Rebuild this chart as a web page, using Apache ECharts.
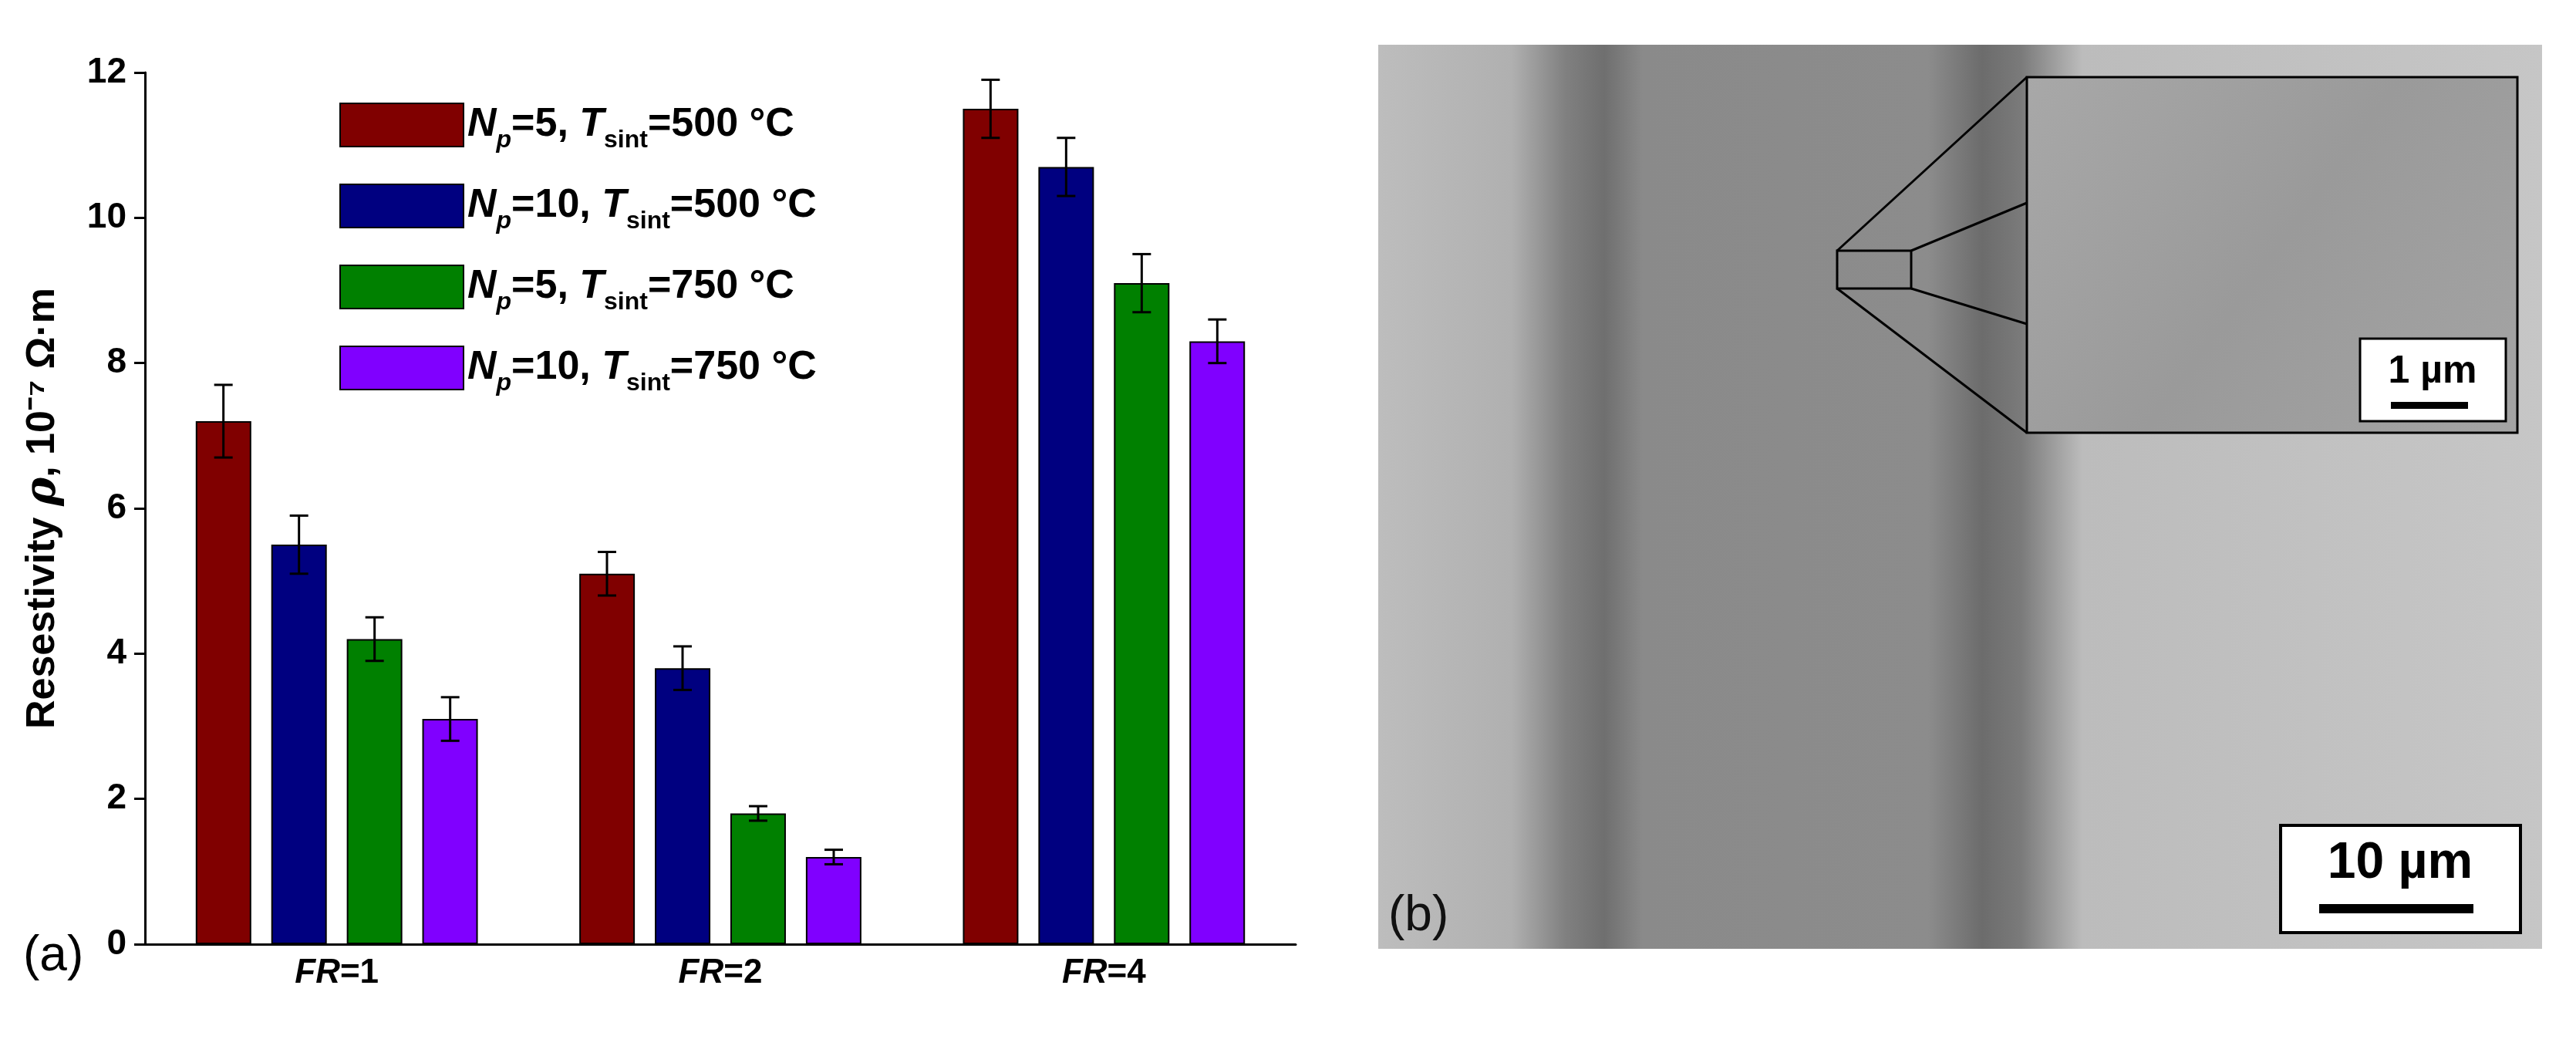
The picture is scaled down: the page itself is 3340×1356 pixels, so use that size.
<!DOCTYPE html>
<html><head><meta charset="utf-8">
<script src="https://cdn.jsdelivr.net/npm/echarts@6/dist/echarts.min.js"></script>
<style>html,body{margin:0;padding:0;background:#fff}#c{width:3340px;height:1356px}</style>
</head><body><div id="c"></div>
<script>
const categories = ['1', '2', '4'];
const seriesNames = ['Np5_500', 'Np10_500', 'Np5_750', 'Np10_750'];
const legendNp = ['5', '10', '5', '10'];
const legendT = ['500', '500', '750', '750'];
const values = [
  [7.2, 5.1, 11.5],
  [5.5, 3.8, 10.7],
  [4.2, 1.8, 9.1],
  [3.1, 1.2, 8.3]
];
const errors = [
  [0.5, 0.3, 0.4],
  [0.4, 0.3, 0.4],
  [0.3, 0.1, 0.4],
  [0.3, 0.1, 0.3]
];
const colors = ['#800000', '#000080', '#008000', '#8000ff'];
const yTicks = [0, 2, 4, 6, 8, 10, 12];

const BW = 72, STEP = 98;
const chart = echarts.init(document.getElementById('c'));
const series = [];
seriesNames.forEach((n, i) => {
  series.push({
    name: n, type: 'bar', data: values[i], barWidth: BW, barGap: '36%',
    itemStyle: { color: colors[i], borderColor: '#000', borderWidth: 2 }
  });
});
seriesNames.forEach((n, i) => {
  series.push({
    type: 'custom', name: n + '_err',
    data: values[i].map((v, j) => [j, v, errors[i][j]]),
    renderItem: function (params, api) {
      const x = api.value(0), v = api.value(1), e = api.value(2);
      const top = api.coord([x, v + e]);
      const bot = api.coord([x, v - e]);
      const cx = top[0] + (i - 1.5) * STEP;
      const hw = 12;
      const st = { stroke: '#000', lineWidth: 3 };
      return { type: 'group', children: [
        { type: 'line', shape: { x1: cx, y1: top[1], x2: cx, y2: bot[1] }, style: st },
        { type: 'line', shape: { x1: cx - hw, y1: top[1], x2: cx + hw, y2: top[1] }, style: st },
        { type: 'line', shape: { x1: cx - hw, y1: bot[1], x2: cx + hw, y2: bot[1] }, style: st }
      ]};
    },
    z: 5
  });
});

const PX0 = 1787, PX1 = 3296, PY0 = 58, PY1 = 1230;
const pw = PX1 - PX0;
function fx(x) { return (x - PX0) / pw; }
const lineSt = { stroke: '#000', lineWidth: 3 };
const graphics = [
  { type: 'rect', shape: { x: PX0, y: PY0, width: pw, height: PY1 - PY0 },
    style: { fill: new echarts.graphic.LinearGradient(0, 0, 1, 0, [
      { offset: 0, color: '#bdbdbd' },
      { offset: fx(1960), color: '#b0b0b0' },
      { offset: fx(2030), color: '#808080' },
      { offset: fx(2080), color: '#6f6f6f' },
      { offset: fx(2130), color: '#8a8a8a' },
      { offset: fx(2500), color: '#8c8c8c' },
      { offset: fx(2570), color: '#6c6c6c' },
      { offset: fx(2620), color: '#7a7a7a' },
      { offset: fx(2700), color: '#bcbcbc' },
      { offset: 1, color: '#c6c6c6' }
    ]) } },
  { type: 'rect', shape: { x: 2628, y: 100, width: 636, height: 461 },
    style: { fill: new echarts.graphic.LinearGradient(0, 0, 1, 1, [
      { offset: 0, color: '#a8a8a8' }, { offset: 0.5, color: '#9a9a9a' }, { offset: 1, color: '#a4a4a4' }
    ]), stroke: '#000', lineWidth: 3 } },
  { type: 'rect', shape: { x: 2382, y: 325, width: 96, height: 49 }, style: { fill: 'none', stroke: '#000', lineWidth: 3 } },
  { type: 'line', shape: { x1: 2382, y1: 325, x2: 2628, y2: 100 }, style: lineSt },
  { type: 'line', shape: { x1: 2382, y1: 374, x2: 2628, y2: 561 }, style: lineSt },
  { type: 'line', shape: { x1: 2478, y1: 325, x2: 2628, y2: 263 }, style: lineSt },
  { type: 'line', shape: { x1: 2478, y1: 374, x2: 2628, y2: 420 }, style: lineSt },
  { type: 'rect', shape: { x: 3060, y: 439, width: 189, height: 107 }, style: { fill: '#fff', stroke: '#000', lineWidth: 3 } },
  { type: 'text', x: 3154, y: 482, style: { text: '1 µm', font: 'bold 50px Arial', fill: '#000', align: 'center', verticalAlign: 'middle' } },
  { type: 'rect', shape: { x: 3100, y: 521, width: 100, height: 9 }, style: { fill: '#000' } },
  { type: 'rect', shape: { x: 2957, y: 1070, width: 311, height: 139 }, style: { fill: '#fff', stroke: '#000', lineWidth: 4 } },
  { type: 'text', x: 3112, y: 1120, style: { text: '10 µm', font: 'bold 66px Arial', fill: '#000', align: 'center', verticalAlign: 'middle' } },
  { type: 'rect', shape: { x: 3007, y: 1172, width: 200, height: 12 }, style: { fill: '#000' } },
  { type: 'text', x: 1800, y: 1188, style: { text: '(b)', font: '64px Arial', fill: '#111', verticalAlign: 'middle' } },
  { type: 'text', x: 30, y: 1240, style: { text: '(a)', font: '64px Arial', fill: '#000', verticalAlign: 'middle' } }
];

const base = { fontFamily: 'Arial', fontWeight: 'bold', color: '#000' };
chart.setOption({
  animation: false,
  grid: { left: 188, right: 1660, top: 94, bottom: 132 },
  legend: {
    data: seriesNames, orient: 'vertical', left: 435, top: 128,
    icon: 'rect', itemWidth: 160, itemHeight: 56, itemGap: 40,
    itemStyle: { borderColor: '#000', borderWidth: 2 },
    formatter: function (name) {
      const k = seriesNames.indexOf(name);
      return '{i|N}{si|p}{n|=' + legendNp[k] + ', }{i|T}{s|sint}{n|=' + legendT[k] + ' °C}';
    },
    textStyle: Object.assign({}, base, { fontSize: 52, rich: {
      i: Object.assign({}, base, { fontSize: 52, fontStyle: 'italic' }),
      n: Object.assign({}, base, { fontSize: 52 }),
      s: Object.assign({}, base, { fontSize: 32, padding: [40, 0, 0, 0] }),
      si: Object.assign({}, base, { fontSize: 32, fontStyle: 'italic', padding: [40, 0, 0, 0] })
    } })
  },
  xAxis: {
    type: 'category', data: categories,
    axisLine: { lineStyle: { color: '#000', width: 3 } },
    axisTick: { alignWithLabel: true, length: 12, lineStyle: { width: 3 } },
    axisLabel: Object.assign({}, base, { fontSize: 44, margin: 16, formatter: v => '{i|FR}{n|=' + v + '}',
      rich: { i: Object.assign({}, base, { fontSize: 44, fontStyle: 'italic' }), n: Object.assign({}, base, { fontSize: 44 }) } })
  },
  yAxis: {
    type: 'value', min: 0, max: 12, interval: 2,
    axisLine: { show: true, lineStyle: { color: '#000', width: 3 } },
    axisTick: { show: true, length: 14, lineStyle: { width: 3 } },
    splitLine: { show: false },
    axisLabel: Object.assign({}, base, { margin: 24, fontSize: 46,
      formatter: v => String(yTicks[yTicks.indexOf(v)]) }),
    name: '{n|Resestivity }{i|ρ}{n|, 10⁻⁷ Ω·m}', nameLocation: 'middle', nameGap: 104, nameRotate: 90,
    nameTextStyle: Object.assign({}, base, { fontSize: 52,
      rich: { n: Object.assign({}, base, { fontSize: 52 }),
              i: { fontSize: 56, fontStyle: 'italic', fontFamily: 'DejaVu Serif', color: '#000' } } })
  },
  series: series,
  graphic: graphics
});
</script></body></html>
